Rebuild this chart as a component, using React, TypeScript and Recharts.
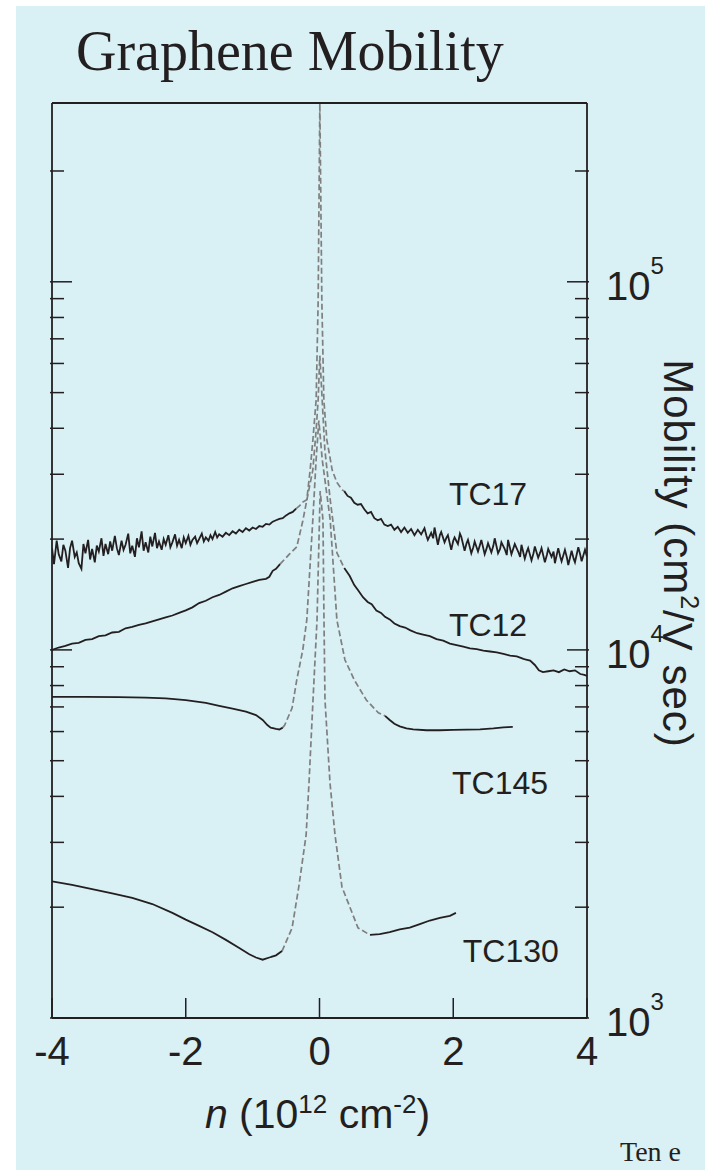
import React from 'react';
import { LineChart, Line, XAxis, YAxis, ReferenceDot, Label } from 'recharts';

type Pt = [number, number];

// ---------- axis ticks ----------
const X_TICKS = [-4, -2, 0, 2, 4];
const Y_TICKS = [
  1000, 2000, 3000, 4000, 5000, 6000, 7000, 8000, 9000,
  10000, 20000, 30000, 40000, 50000, 60000, 70000, 80000, 90000,
  100000, 200000,
];
const Y_DECADES = [1000, 10000, 100000];
const Y_EXPONENTS = ['3', '4', '5'];

// ---------- series labels ----------
const SERIES_NAMES = ['TC17', 'TC12', 'TC145', 'TC130'];
const LABEL_N = [2.52, 2.52, 2.7, 2.86];
const LABEL_MU = [26600, 11700, 4350, 1530];

// ---------- TC17 ----------
const TC17_LEFT: Pt[] = [
  [-4.0, 18900], [-3.97, 17100], [-3.93, 19800], [-3.9, 18200], [-3.86, 17400], [-3.83, 19300],
  [-3.8, 18600], [-3.76, 16700], [-3.73, 18900], [-3.7, 19800], [-3.66, 17900], [-3.63, 18400],
  [-3.6, 17200], [-3.56, 16600], [-3.53, 19400], [-3.5, 18300], [-3.46, 19900], [-3.43, 17600],
  [-3.4, 18800], [-3.36, 17300], [-3.33, 19200], [-3.3, 18500], [-3.26, 20100], [-3.23, 18000],
  [-3.2, 19400], [-3.16, 18200], [-3.13, 19700], [-3.1, 18600], [-3.06, 20400], [-3.03, 18900],
  [-3.0, 18100], [-2.96, 19800], [-2.93, 18700], [-2.9, 19300], [-2.86, 20700], [-2.83, 18300],
  [-2.8, 19200], [-2.76, 17900], [-2.73, 20100], [-2.7, 19000], [-2.66, 21000], [-2.63, 18600],
  [-2.6, 19600], [-2.56, 18400], [-2.53, 20300], [-2.5, 19100], [-2.46, 20800], [-2.43, 18900],
  [-2.4, 19700], [-2.36, 18700], [-2.33, 20000], [-2.3, 19300], [-2.26, 20500], [-2.23, 19000],
  [-2.2, 19600], [-2.16, 20600], [-2.13, 19200], [-2.1, 19900], [-2.06, 18900], [-2.03, 20200],
  [-2.0, 19500], [-1.96, 20400], [-1.93, 19300], [-1.9, 19900], [-1.86, 20300], [-1.83, 19500],
  [-1.8, 20000], [-1.76, 20700], [-1.73, 19700], [-1.7, 20200], [-1.66, 19800], [-1.63, 20500],
  [-1.6, 20000], [-1.56, 20900], [-1.53, 20200], [-1.5, 20600], [-1.45, 20300], [-1.4, 20800],
  [-1.35, 20500], [-1.3, 21000], [-1.25, 20700], [-1.2, 21200], [-1.15, 20900], [-1.1, 21400],
  [-1.05, 21100], [-1.0, 21500], [-0.95, 21300], [-0.9, 21700], [-0.85, 21600], [-0.8, 22000],
  [-0.75, 21900], [-0.7, 22300], [-0.65, 22500], [-0.6, 22700], [-0.55, 22800], [-0.5, 23200],
  [-0.45, 23500], [-0.4, 23700], [-0.35, 24200],
];
const TC17_PEAK: Pt[] = [
  [-0.35, 24200], [-0.3, 24600], [-0.25, 25200], [-0.19, 25600], [-0.14, 30800], [-0.1, 37000],
  [-0.05, 47800], [-0.02, 89000], [0.005, 306000], [0.035, 89000], [0.065, 47800], [0.11, 37200],
  [0.19, 30800], [0.26, 28500], [0.34, 27200], [0.37, 27000],
];
const TC17_RIGHT: Pt[] = [
  [0.37, 27000], [0.42, 26200], [0.47, 25900], [0.52, 25100], [0.57, 24800], [0.62, 24900],
  [0.67, 24100], [0.72, 23500], [0.77, 23700], [0.82, 22800], [0.87, 22500], [0.92, 22700],
  [0.97, 21900], [1.02, 21700], [1.07, 21900], [1.12, 21200], [1.17, 21600], [1.22, 20900],
  [1.27, 21500], [1.32, 20800], [1.37, 21300], [1.42, 20500], [1.47, 21200], [1.52, 20600],
  [1.57, 21400], [1.6, 20400], [1.62, 19900], [1.67, 20800], [1.7, 20100], [1.72, 21500],
  [1.77, 19300], [1.8, 20500], [1.82, 20900], [1.87, 19600], [1.9, 20200], [1.92, 20500],
  [1.97, 18700], [2.0, 19800], [2.02, 20200], [2.07, 19400], [2.1, 20700], [2.12, 20300],
  [2.17, 18600], [2.2, 19500], [2.22, 19900], [2.27, 18300], [2.3, 19000], [2.32, 19700],
  [2.37, 18500], [2.4, 19300], [2.42, 19900], [2.47, 18200], [2.5, 18900], [2.52, 19500],
  [2.57, 18400], [2.6, 19200], [2.62, 20100], [2.67, 18300], [2.7, 18800], [2.72, 19600],
  [2.77, 18800], [2.8, 18100], [2.82, 19900], [2.87, 18200], [2.9, 18900], [2.92, 19400],
  [2.97, 18500], [3.0, 17900], [3.02, 19300], [3.07, 17700], [3.1, 18500], [3.12, 18900],
  [3.17, 17500], [3.2, 18300], [3.22, 19100], [3.27, 17800], [3.3, 18400], [3.32, 18900],
  [3.37, 17300], [3.4, 18100], [3.42, 18800], [3.47, 17900], [3.5, 18500], [3.52, 17200],
  [3.57, 18900], [3.6, 17900], [3.62, 17400], [3.67, 18700], [3.7, 17800], [3.72, 17000],
  [3.77, 18600], [3.8, 17700], [3.82, 17300], [3.87, 19000], [3.9, 18100], [3.92, 17400],
  [3.97, 18700], [4.0, 17900],
];

// ---------- TC12 ----------
const TC12_LEFT: Pt[] = [
  [-4.0, 10000], [-3.9, 10150], [-3.8, 10250], [-3.7, 10400], [-3.6, 10450], [-3.5, 10650],
  [-3.4, 10700], [-3.3, 10900], [-3.2, 10950], [-3.1, 11150], [-3.0, 11200], [-2.9, 11450],
  [-2.8, 11550], [-2.7, 11700], [-2.6, 11800], [-2.5, 11950], [-2.4, 12100], [-2.3, 12250],
  [-2.2, 12400], [-2.1, 12600], [-2.0, 12800], [-1.9, 13050], [-1.8, 13400], [-1.7, 13600],
  [-1.6, 13900], [-1.5, 14100], [-1.4, 14400], [-1.3, 14700], [-1.2, 14900], [-1.1, 15100],
  [-1.0, 15300], [-0.9, 15500], [-0.8, 15600], [-0.75, 15800], [-0.7, 16400], [-0.65, 16600],
  [-0.59, 17100],
];
const TC12_PEAK: Pt[] = [
  [-0.59, 17100], [-0.45, 18200], [-0.34, 19050], [-0.25, 22400], [-0.19, 25500], [-0.1, 30800],
  [-0.05, 39600], [-0.02, 47800], [0.005, 63000], [0.04, 47800], [0.08, 35000], [0.16, 25600],
  [0.26, 18350], [0.37, 16700],
];
const TC12_RIGHT: Pt[] = [
  [0.37, 16700], [0.45, 15900], [0.52, 15000], [0.58, 14500], [0.65, 13900], [0.72, 13500],
  [0.78, 13300], [0.85, 12800], [0.92, 12600], [0.98, 12300], [1.05, 12100], [1.12, 11800],
  [1.2, 11600], [1.28, 11500], [1.36, 11300], [1.46, 11100], [1.55, 11000], [1.65, 10900],
  [1.75, 10700], [1.85, 10600], [1.95, 10400], [2.05, 10300], [2.15, 10200], [2.25, 10100],
  [2.35, 10050], [2.45, 9950], [2.55, 9900], [2.65, 9850], [2.75, 9750], [2.85, 9650],
  [2.95, 9600], [3.05, 9450], [3.15, 9350], [3.22, 9100], [3.28, 8800], [3.34, 8700],
  [3.42, 8750], [3.5, 8800], [3.58, 8700], [3.66, 8850], [3.74, 8750], [3.82, 8800],
  [3.9, 8600], [3.96, 8550], [4.0, 8500],
];

// ---------- TC145 ----------
const TC145_LEFT: Pt[] = [
  [-4.0, 7450], [-3.5, 7450], [-3.0, 7440], [-2.6, 7420], [-2.3, 7380], [-2.0, 7300],
  [-1.7, 7180], [-1.5, 7050], [-1.3, 6930], [-1.1, 6800], [-0.95, 6650], [-0.85, 6450],
  [-0.78, 6250], [-0.73, 6150], [-0.65, 6100], [-0.6, 6080], [-0.55, 6150],
];
const TC145_PEAK: Pt[] = [
  [-0.55, 6150], [-0.52, 6250], [-0.41, 6950], [-0.34, 8290], [-0.25, 10000], [-0.19, 12060],
  [-0.1, 22560], [-0.05, 33000], [-0.01, 42000], [0.04, 33000], [0.16, 22560], [0.26, 12060],
  [0.38, 9400], [0.52, 8290], [0.7, 7310], [0.88, 6750], [0.98, 6620],
];
const TC145_RIGHT: Pt[] = [
  [0.98, 6620], [1.05, 6450], [1.12, 6300], [1.2, 6200], [1.3, 6120], [1.4, 6080],
  [1.6, 6050], [1.8, 6050], [2.0, 6060], [2.2, 6070], [2.4, 6080], [2.6, 6120],
  [2.75, 6160], [2.89, 6180],
];

// ---------- TC130 ----------
const TC130_LEFT: Pt[] = [
  [-4.0, 2350], [-3.7, 2300], [-3.4, 2240], [-3.1, 2180], [-2.8, 2120], [-2.5, 2040],
  [-2.2, 1930], [-2.0, 1850], [-1.8, 1780], [-1.6, 1710], [-1.4, 1630], [-1.2, 1550],
  [-1.05, 1490], [-0.95, 1460], [-0.85, 1440], [-0.75, 1460], [-0.65, 1480], [-0.56, 1520],
];
const TC130_PEAK: Pt[] = [
  [-0.56, 1520], [-0.41, 1757], [-0.31, 2270], [-0.2, 3143], [-0.157, 4351], [-0.097, 7313],
  [-0.037, 12060], [0.01, 27000], [0.052, 22560], [0.067, 12060], [0.082, 7313], [0.157, 4351],
  [0.232, 3143], [0.336, 2270], [0.576, 1757], [0.755, 1681],
];
const TC130_RIGHT: Pt[] = [
  [0.755, 1681], [0.9, 1690], [1.05, 1710], [1.2, 1740], [1.35, 1760], [1.5, 1800],
  [1.65, 1840], [1.8, 1870], [1.95, 1895], [2.04, 1930],
];

const SOLID_SEGMENTS = [TC17_LEFT, TC17_RIGHT, TC12_LEFT, TC12_RIGHT, TC145_LEFT, TC145_RIGHT, TC130_LEFT, TC130_RIGHT];
const DASHED_SEGMENTS = [TC17_PEAK, TC12_PEAK, TC145_PEAK, TC130_PEAK];

const toRows = (pts: Pt[]) => pts.map(([n, mu]) => ({ n, mu }));

// ---------- styles ----------
const INK = '#231f20';
const DASH = '#7f7f7f';
const BG = '#d9f0f4';
const SANS = '"Liberation Sans", Arial, Helvetica, sans-serif';
const SERIF = '"Liberation Serif", "Times New Roman", serif';

const BottomTick = (props: any) => {
  const { x, y, payload } = props;
  return (
    <g>
      <line x1={x} y1={y} x2={x} y2={y - 20} stroke={INK} strokeWidth={1.5} />
      <text x={x} y={y + 47} textAnchor="middle" fontSize={40} fontFamily={SANS} fill={INK}>
        {payload.value}
      </text>
    </g>
  );
};

const LeftTick = (props: any) => {
  const { x, y, payload } = props;
  const len = Y_DECADES.includes(payload.value) ? 20 : 12;
  return <line x1={x - 2} y1={y} x2={x + len} y2={y} stroke={INK} strokeWidth={1.5} />;
};

const RightTick = (props: any) => {
  const { x, y, payload } = props;
  const idx = Y_DECADES.indexOf(payload.value);
  const len = idx >= 0 ? 20 : 12;
  return (
    <g>
      <line x1={x + 2} y1={y} x2={x - len} y2={y} stroke={INK} strokeWidth={1.5} />
      {idx >= 0 && (
        <text x={x + 19} y={y + 18} fontSize={40} fontFamily={SANS} fill={INK}>
          10
          <tspan dy={-26} fontSize={24}>{Y_EXPONENTS[idx]}</tspan>
        </text>
      )}
    </g>
  );
};

const XTitle = (props: any) => {
  const vb = props.viewBox || {};
  const cx = vb.x + vb.width / 2 - 2;
  const y = vb.y + 110;
  return (
    <text x={cx} y={y} textAnchor="middle" fontSize={41} fontFamily={SANS} fill={INK}>
      <tspan fontStyle="italic">n</tspan>
      <tspan>{' (10'}</tspan>
      <tspan dy={-15} fontSize={26}>12</tspan>
      <tspan dy={15}>{' cm'}</tspan>
      <tspan dy={-15} fontSize={26}>-2</tspan>
      <tspan dy={15}>)</tspan>
    </text>
  );
};

const YTitle = (props: any) => {
  const vb = props.viewBox || {};
  const cx = vb.x + 91;
  const cy = vb.y + vb.height / 2 - 7;
  return (
    <text
      x={cx}
      y={cy}
      transform={`rotate(90 ${cx} ${cy})`}
      textAnchor="middle"
      dominantBaseline="central"
      fontSize={42}
      letterSpacing={1}
      fontFamily={SANS}
      fill={INK}
    >
      {'Mobility (cm'}
      <tspan dy={-12} fontSize={25}>2</tspan>
      <tspan dy={12}>{'/V sec)'}</tspan>
    </text>
  );
};

const makeLabelShape = (name: string) => (p: any) => (
  <text x={p.cx} y={p.cy + 11.5} textAnchor="middle" fontSize={32} fontFamily={SANS} fill={INK}>
    {name}
  </text>
);

export default function App() {
  return (
    <div
      style={{
        position: 'fixed',
        left: 16,
        top: 6,
        width: 689,
        height: 1164,
        background: BG,
        overflow: 'hidden',
      }}
    >
      <LineChart
        width={689}
        height={1164}
        margin={{ top: 96, right: 117, bottom: 151, left: 35 }}
      >
        <XAxis
          xAxisId="x"
          dataKey="n"
          type="number"
          domain={[-4, 4]}
          allowDataOverflow
          ticks={X_TICKS}
          interval={0}
          height={1}
          tickSize={0}
          tickMargin={0}
          tickLine={false}
          tick={<BottomTick />}
          axisLine={{ stroke: INK, strokeWidth: 1.8 }}
          label={<Label content={<XTitle />} />}
        />
        <XAxis
          xAxisId="top"
          orientation="top"
          dataKey="n"
          type="number"
          domain={[-4, 4]}
          allowDataOverflow
          height={1}
          tick={false}
          tickLine={false}
          axisLine={{ stroke: INK, strokeWidth: 1.8 }}
        />
        <YAxis
          yAxisId="left"
          orientation="left"
          type="number"
          scale="log"
          domain={[1000, 306000]}
          allowDataOverflow
          ticks={Y_TICKS}
          interval={0}
          width={1}
          tickSize={0}
          tickMargin={0}
          tickLine={false}
          tick={<LeftTick />}
          axisLine={{ stroke: INK, strokeWidth: 1.8 }}
        />
        <YAxis
          yAxisId="right"
          orientation="right"
          type="number"
          scale="log"
          domain={[1000, 306000]}
          allowDataOverflow
          ticks={Y_TICKS}
          interval={0}
          width={1}
          tickSize={0}
          tickMargin={0}
          tickLine={false}
          tick={<RightTick />}
          axisLine={{ stroke: INK, strokeWidth: 1.8 }}
          label={<Label content={<YTitle />} />}
        />
        {DASHED_SEGMENTS.map((seg, i) => (
          <Line
            key={`d${i}`}
            data={toRows(seg)}
            dataKey="mu"
            xAxisId="x"
            yAxisId="right"
            type="linear"
            stroke={DASH}
            strokeWidth={1.7}
            strokeDasharray="6 3"
            dot={false}
            activeDot={false}
            legendType="none"
            isAnimationActive={false}
          />
        ))}
        {SOLID_SEGMENTS.map((seg, i) => (
          <Line
            key={`s${i}`}
            data={toRows(seg)}
            dataKey="mu"
            xAxisId="x"
            yAxisId="right"
            type="linear"
            stroke={INK}
            strokeWidth={1.8}
            dot={false}
            activeDot={false}
            legendType="none"
            isAnimationActive={false}
          />
        ))}
        {SERIES_NAMES.map((name, i) => (
          <ReferenceDot
            key={name}
            xAxisId="x"
            yAxisId="right"
            x={LABEL_N[i]}
            y={LABEL_MU[i]}
            r={0}
            ifOverflow="visible"
            shape={makeLabelShape(name)}
          />
        ))}
      </LineChart>
      <svg
        width={689}
        height={1164}
        style={{ position: 'absolute', left: 0, top: 0, pointerEvents: 'none' }}
      >
        <text x={60} y={64} fontSize={56} fontFamily={SERIF} fill={INK}>
          Graphene Mobility
        </text>
        <text x={604} y={1155} fontSize={28} fontFamily={SERIF} fill={INK}>
          Ten e
        </text>
      </svg>
    </div>
  );
}
